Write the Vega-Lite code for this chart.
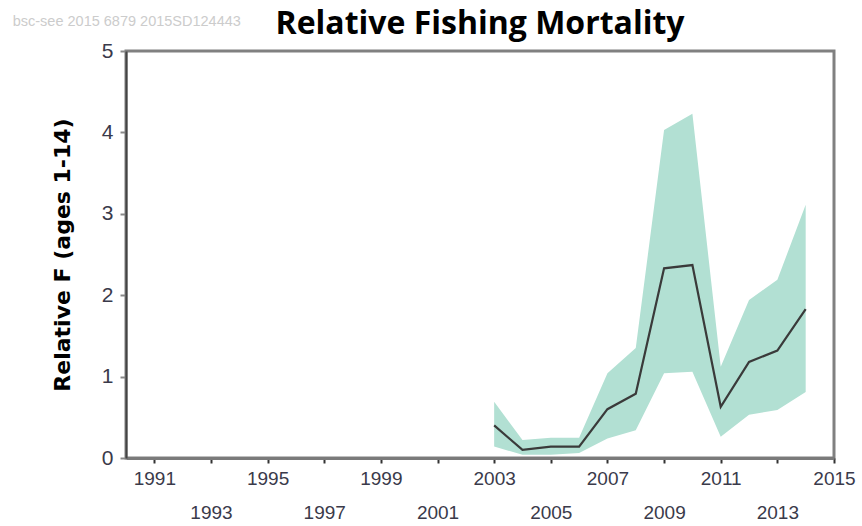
{
  "$schema": "https://vega.github.io/schema/vega-lite/v6.json",
  "width": 708,
  "height": 407,
  "autosize": {"type": "none"},
  "padding": {"left": 126, "top": 51, "right": 28, "bottom": 68},
  "background": "white",
  "config": {
    "view": {"stroke": "#808080", "strokeWidth": 3}
  },
  "title": {
    "text": "Relative Fishing Mortality",
    "font": "Open Sans",
    "fontSize": 32,
    "fontWeight": "bold",
    "color": "#000000",
    "anchor": "middle",
    "offset": 2,
    "dy": 29
  },
  "layer": [
    {
      "data": {
        "values": [
          {"year": 2003, "f": 0.40, "lo": 0.14, "hi": 0.69},
          {"year": 2004, "f": 0.10, "lo": 0.04, "hi": 0.22},
          {"year": 2005, "f": 0.14, "lo": 0.04, "hi": 0.25},
          {"year": 2006, "f": 0.14, "lo": 0.06, "hi": 0.25},
          {"year": 2007, "f": 0.60, "lo": 0.24, "hi": 1.04},
          {"year": 2008, "f": 0.79, "lo": 0.34, "hi": 1.35},
          {"year": 2009, "f": 2.33, "lo": 1.04, "hi": 4.03},
          {"year": 2010, "f": 2.37, "lo": 1.06, "hi": 4.23},
          {"year": 2011, "f": 0.63, "lo": 0.26, "hi": 1.12},
          {"year": 2012, "f": 1.18, "lo": 0.53, "hi": 1.94},
          {"year": 2013, "f": 1.32, "lo": 0.59, "hi": 2.19},
          {"year": 2014, "f": 1.83, "lo": 0.81, "hi": 3.11}
        ]
      },
      "layer": [
        {
          "mark": {"type": "area", "color": "#b2e0d3", "opacity": 1},
          "encoding": {
            "x": {
              "field": "year",
              "type": "quantitative",
              "scale": {"domain": [1990, 2015], "nice": false, "zero": false},
              "axis": {
                "title": null,
                "values": [1991, 1993, 1995, 1997, 1999, 2001, 2003, 2005, 2007, 2009, 2011, 2013, 2015],
                "format": "d",
                "grid": false,
                "domainColor": "#7a7a7a",
                "domainWidth": 3,
                "tickColor": "#333333",
                "tickSize": 5,
                "tickWidth": 2,
                "labelFont": "Liberation Sans",
                "labelFontSize": 19,
                "labelColor": "#3a3a4a",
                "labelFlush": false,
                "labelOverlap": false,
                "labelBaseline": "top",
                "labelPadding": {"condition": {"test": "datum.value % 4 == 1", "value": 40}, "value": 6}
              }
            },
            "y": {
              "field": "hi",
              "type": "quantitative",
              "scale": {"domain": [0, 5], "nice": false},
              "axis": {
                "title": "Relative F (ages 1-14)",
                "titleFont": "DejaVu Sans",
                "titleFontSize": 22,
                "titleFontWeight": "bold",
                "titleColor": "#000000",
                "titlePadding": 27,
                "values": [0, 1, 2, 3, 4, 5],
                "format": "d",
                "grid": false,
                "domainColor": "#444444",
                "domainWidth": 2,
                "tickColor": "#888888",
                "tickSize": 6,
                "tickWidth": 2,
                "labelFont": "Liberation Sans",
                "labelFontSize": 21,
                "labelColor": "#3a3a4a",
                "labelPadding": 7
              }
            },
            "y2": {"field": "lo"}
          }
        },
        {
          "mark": {"type": "line", "color": "#3a3a3a", "strokeWidth": 2.2},
          "encoding": {
            "x": {"field": "year", "type": "quantitative"},
            "y": {"field": "f", "type": "quantitative"}
          }
        }
      ]
    },
    {
      "data": {"values": [{"note": "bsc-see  2015  6879  2015SD124443"}]},
      "mark": {"type": "text", "align": "left", "baseline": "middle", "fontSize": 14.5, "color": "#cccccc", "clip": false, "font": "Liberation Sans"},
      "encoding": {
        "x": {"datum": 1986.0, "type": "quantitative"},
        "y": {"datum": 5.36, "type": "quantitative"},
        "text": {"field": "note", "type": "nominal"}
      }
    }
  ]
}
